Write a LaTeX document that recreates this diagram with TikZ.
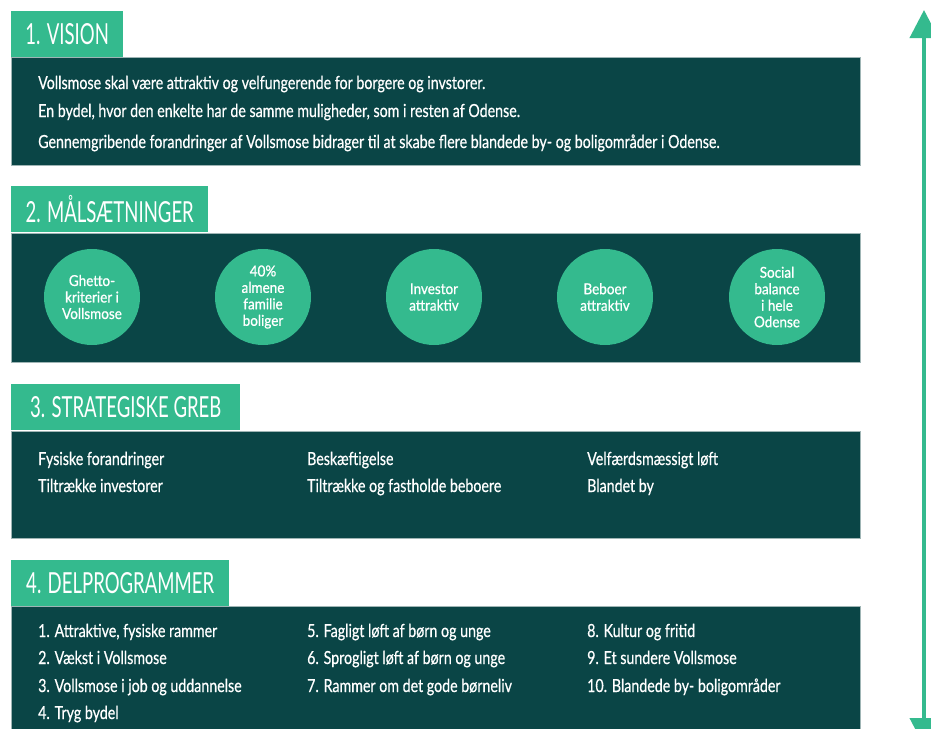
\documentclass[tikz,border=0pt]{standalone}
\usepackage{fontspec}
\setmainfont{Lato}[FakeStretch=0.79,FakeBold=0.5]
\newfontfamily\titlefont{Lato}[FakeStretch=0.64]
\newfontfamily\goalfont{Lato}[FakeStretch=0.9,FakeBold=0.8]
\usetikzlibrary{arrows.meta}
\definecolor{tabgreen}{HTML}{34BA8E}
\definecolor{darkteal}{HTML}{0A4546}
\definecolor{edgegray}{HTML}{9FB5B5}
\tikzset{
  tab/.style={fill=tabgreen, anchor=north west, inner sep=0pt, minimum height=46pt, text=white, font=\titlefont\fontsize{29}{32}\selectfont},
  panel/.style={fill=darkteal, draw=edgegray, line width=0.6pt, anchor=north west, inner sep=0pt, minimum width=849pt},
  txt/.style={anchor=base west, inner sep=0pt, text=white, font=\fontsize{18}{21}\selectfont},
  goal/.style={circle, fill=tabgreen, minimum size=96pt, inner sep=0pt, text=white, align=center, font=\goalfont\fontsize{15}{16.5}\selectfont},
  arr/.style={draw=tabgreen, line width=4pt, {Triangle[width=28pt,length=28pt]}-{Triangle[width=28pt,length=28pt]}}
}
\begin{document}
\begin{tikzpicture}[x=1pt,y=-1pt]
\clip (0,0) rectangle (931,728);
\fill[white] (0,0) rectangle (931,728);
% Section 1
\node[panel, minimum height=108pt] (b1) at (11,57) {};
\node[tab, minimum width=112pt] (t1) at (11,11) {1. VISION};
\node[txt] (v1) at (38,89) {Vollsmose skal være attraktiv og velfungerende for borgere og invstorer.};
\node[txt] (v2) at (38,117) {En bydel, hvor den enkelte har de samme muligheder, som i resten af Odense.};
\node[txt] (v3) at (38,148) {Gennemgribende forandringer af Vollsmose bidrager til at skabe flere blandede by- og boligområder i Odense.};
% Section 2
\node[panel, minimum height=129pt] (b2) at (11,233) {};
\node[tab, minimum width=197pt] (t2) at (11,186) {2. MÅLSÆTNINGER};
\node[goal] (g1) at (92,297) {Ghetto-\\kriterier i\\Vollsmose};
\node[goal] (g2) at (263,297) {40\%\\almene\\familie\\boliger};
\node[goal] (g3) at (434,297) {Investor\\attraktiv};
\node[goal] (g4) at (605,297) {Beboer\\attraktiv};
\node[goal] (g5) at (777,297) {Social\\balance\\i hele\\Odense};
% Section 3
\node[panel, minimum height=107pt] (b3) at (11,431) {};
\node[tab, minimum width=229pt] (t3) at (11,384) {3. STRATEGISKE GREB};
\node[txt] (s1) at (38,465) {Fysiske forandringer};
\node[txt] (s2) at (38,492) {Tiltrække investorer};
\node[txt] (s3) at (307,465) {Beskæftigelse};
\node[txt] (s4) at (307,492) {Tiltrække og fastholde beboere};
\node[txt] (s5) at (587,465) {Velfærdsmæssigt løft};
\node[txt] (s6) at (587,492) {Blandet by};
% Section 4
\node[panel, minimum height=130pt] (b4) at (11,606) {};
\node[tab, minimum width=218pt] (t4) at (11,560) {4. DELPROGRAMMER};
\node[txt] (d1) at (38,637) {1. Attraktive, fysiske rammer};
\node[txt] (d2) at (38,664) {2. Vækst i Vollsmose};
\node[txt] (d3) at (38,692) {3. Vollsmose i job og uddannelse};
\node[txt] (d4) at (38,719) {4. Tryg bydel};
\node[txt] (d5) at (307,637) {5. Fagligt løft af børn og unge};
\node[txt] (d6) at (307,664) {6. Sprogligt løft af børn og unge};
\node[txt] (d7) at (307,692) {7. Rammer om det gode børneliv};
\node[txt] (d8) at (587,637) {8. Kultur og fritid};
\node[txt] (d9) at (587,664) {9. Et sundere Vollsmose};
\node[txt] (d10) at (587,692) {10. Blandede by- boligområder};
% Arrow
\coordinate (atop) at (924,10);
\coordinate (abot) at (924,746);
\draw[arr] (abot) -- (atop);
\end{tikzpicture}
\end{document}
